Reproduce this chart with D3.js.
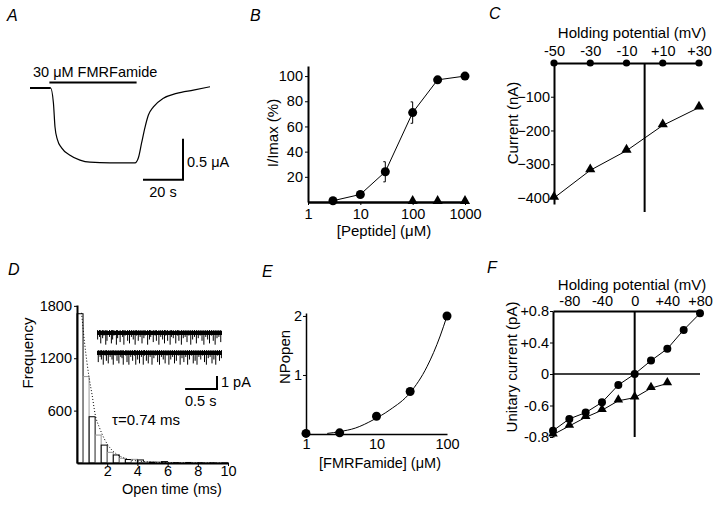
<!DOCTYPE html>
<html>
<head>
<meta charset="utf-8">
<script src="https://cdn.jsdelivr.net/npm/d3@7/dist/d3.min.js"></script>
<style>
  body { margin: 0; background: #fff; }
  svg { font-family: "Liberation Sans", Arial, Helvetica, sans-serif; }
</style>
</head>
<body>
<svg id="fig" width="720" height="505"></svg>
<script>
// ---- Panel A: whole-cell current trace (time s, current uA)
const traceA = [[0, 0], [10.3, 0], [11.7, -0.18], [12.5, -0.475], [13.7, -0.63], [15.8, -0.73],
  [20, -0.82], [25, -0.88], [30, -0.905], [40, -0.912], [52.5, -0.912], [54.2, -0.85],
  [55.8, -0.67], [57.5, -0.48], [59.2, -0.33], [61.7, -0.23], [66.7, -0.125], [73.3, -0.065],
  [81.7, -0.025], [90, 0.015]];
const drugOn = 9.7, drugOff = 53.3;

// ---- Panel B: dose response
const doseB = [3, 10, 30, 100, 300, 1000];
const respB = [1, 6, 24, 71, 97, 100];
const errB = [0, 0, 8, 8.5, 0, 0];
const doseBTri = [100, 300, 1000];
const respBTri = [0, 0, 0];
const ticksBx = [1, 10, 100, 1000];
const ticksBy = [20, 40, 60, 80, 100];

// ---- Panel C: I-V whole cell
const vC = [-50, -30, -10, 10, 30];
const iCcirc = [0, 0, 0, 0, 0];
const iCtri = [-400, -318, -260, -185, -132];
const labelsCx = ['-50', '-30', '-10', '+10', '+30'];
const ticksCy = [-100, -200, -300, -400];

// ---- Panel D: open-time histogram (0.4 ms bins)
const binWidthD = 0.4;
const countsD = [1710, 990, 530, 320, 205, 122, 92, 54, 40, 42, 35, 12, 10, 14, 16, 6, 4, 3, 6, 5, 3, 4, 2, 3, 2];
const fitD = [[0.3, 1720], [0.5, 1380], [0.8, 980], [1.0, 780], [1.2, 560], [1.5, 400], [1.8, 280],
  [2.2, 170], [2.6, 105], [3.0, 65], [3.6, 35], [4.5, 15], [6, 4], [9.5, 0]];
const ticksDx = [2, 4, 6, 8, 10];
const ticksDy = [600, 1200, 1800];
// single-channel openings in the inset (time s, amplitude pA)
const eventsD1 = [[0.01, 0.5], [0.04, 0.3], [0.06, 0.8], [0.09, 0.4], [0.11, 0.2], [0.14, 0.9], [0.16, 0.6],
  [0.2, 0.3], [0.23, 0.8], [0.25, 0.5], [0.27, 0.2], [0.31, 0.9], [0.33, 0.4], [0.37, 0.7], [0.41, 0.3],
  [0.43, 0.9], [0.45, 0.2], [0.49, 0.6], [0.52, 0.8], [0.55, 0.3], [0.58, 0.5], [0.61, 0.9], [0.63, 0.2],
  [0.66, 0.6], [0.69, 0.3], [0.72, 0.8], [0.75, 0.4], [0.77, 0.2], [0.81, 0.9], [0.84, 0.5], [0.86, 0.3],
  [0.9, 0.7], [0.93, 0.2], [0.95, 0.6], [0.99, 0.9], [1.02, 0.3], [1.05, 0.5], [1.08, 0.8], [1.1, 0.2],
  [1.13, 0.6], [1.17, 0.9], [1.19, 0.3], [1.22, 0.4], [1.26, 0.8], [1.29, 0.2], [1.31, 0.6], [1.35, 0.9],
  [1.38, 0.4], [1.41, 0.3], [1.44, 0.7], [1.47, 0.2], [1.5, 0.9], [1.53, 0.5], [1.56, 0.3], [1.59, 0.8],
  [1.62, 0.4], [1.65, 0.2], [1.68, 0.6], [1.71, 0.9], [1.74, 0.3], [1.77, 0.5], [1.8, 0.8], [1.83, 0.2],
  [1.86, 0.6], [1.89, 0.9], [1.92, 0.4], [1.95, 0.3], [1.98, 0.7]];
const eventsD2 = [[0.02, 0.7], [0.05, 0.3], [0.07, 0.5], [0.1, 0.9], [0.13, 0.2], [0.15, 0.6], [0.18, 0.8],
  [0.21, 0.3], [0.24, 0.5], [0.26, 0.9], [0.29, 0.2], [0.32, 0.6], [0.35, 0.8], [0.38, 0.3], [0.4, 0.4],
  [0.42, 0.9], [0.46, 0.2], [0.48, 0.7], [0.51, 0.9], [0.54, 0.3], [0.57, 0.6], [0.6, 0.2], [0.62, 0.9],
  [0.65, 0.5], [0.68, 0.8], [0.71, 0.3], [0.74, 0.9], [0.76, 0.2], [0.79, 0.6], [0.82, 0.8], [0.85, 0.3],
  [0.88, 0.9], [0.91, 0.4], [0.94, 0.2], [0.97, 0.7], [1.0, 0.9], [1.03, 0.3], [1.06, 0.5], [1.09, 0.8],
  [1.12, 0.2], [1.15, 0.9], [1.18, 0.5], [1.21, 0.3], [1.24, 0.8], [1.27, 0.6], [1.3, 0.2], [1.33, 0.9],
  [1.36, 0.4], [1.39, 0.7], [1.42, 0.3], [1.45, 0.9], [1.48, 0.5], [1.51, 0.2], [1.54, 0.8], [1.57, 0.6],
  [1.6, 0.9], [1.63, 0.3], [1.66, 0.5], [1.69, 0.2], [1.72, 0.7], [1.75, 0.9], [1.78, 0.4], [1.81, 0.3],
  [1.84, 0.8], [1.87, 0.5], [1.9, 0.9], [1.93, 0.2], [1.96, 0.6], [1.99, 0.4]];

// ---- Panel E: NPopen vs concentration
const doseE = [1, 3, 10, 30, 100];
const npE = [0.01, 0.02, 0.3, 0.72, 2.0];
const fitE = [[2, 0.01], [3, 0.04], [5, 0.1], [9, 0.24], [15.5, 0.41], [30, 0.7], [52, 1.14], [80, 1.66], [100, 2.0]];
const ticksEx = [1, 10, 100];
const ticksEy = [1, 2];

// ---- Panel F: unitary I-V
const vFcirc = [-100, -80, -60, -40, -20, 0, 20, 40, 60, 80];
const iFcirc = [-0.72, -0.57, -0.49, -0.36, -0.14, 0, 0.17, 0.32, 0.56, 0.77];
const vFtri = [-100, -80, -60, -40, -20, 0, 20, 40];
const iFtri = [-0.77, -0.66, -0.55, -0.46, -0.34, -0.3, -0.18, -0.12];
const ticksFx = [-80, -40, 0, 40, 80];
const labelsFx = ['-80', '-40', '0', '+40', '+80'];
const ticksFy = [0.8, 0.4, 0, -0.4, -0.8];
const labelsFy = ['+0.8', '+0.4', '0', '-0.6', '-0.8'];

const svg = d3.select('#fig');
const TICK_FS = 14.5, TITLE_FS = 15;

function styleAxis(g, w) {
  g.attr('font-size', TICK_FS).attr('font-family', null);
  g.select('.domain').attr('stroke', '#000').attr('stroke-width', w);
  g.selectAll('.tick line').attr('stroke', '#000');
  g.selectAll('.tick text').attr('fill', '#000');
  return g;
}

function label(x, y, txt, opts = {}) {
  const t = svg.append('text')
    .attr('x', x).attr('y', y)
    .attr('font-size', opts.size || TITLE_FS)
    .attr('text-anchor', opts.anchor || 'middle')
    .text(txt);
  if (opts.rotate) t.attr('transform', `rotate(-90,${x},${y})`);
  if (opts.italic) t.attr('font-style', 'italic');
  return t;
}

function dots(g, xs, ys, sx, sy, r) {
  g.selectAll(null).data(xs).enter().append('circle')
    .attr('cx', (d) => sx(d)).attr('cy', (d, i) => sy(ys[i])).attr('r', r).attr('fill', '#000');
}

function tris(g, xs, ys, sx, sy, size) {
  g.selectAll(null).data(xs).enter().append('path')
    .attr('d', d3.symbol(d3.symbolTriangle, size))
    .attr('transform', (d, i) => `translate(${sx(d)},${sy(ys[i]) - 1})`)
    .attr('fill', '#000');
}

function joinLine(g, xs, ys, sx, sy, w = 1) {
  g.append('path')
    .datum(xs.map((d, i) => [d, ys[i]]))
    .attr('fill', 'none').attr('stroke', '#000').attr('stroke-width', w)
    .attr('d', d3.line().x((d) => sx(d[0])).y((d) => sy(d[1])));
}

// panel letters
[['A', 7, 21], ['B', 250, 21], ['C', 489, 19], ['D', 8, 275], ['E', 262, 277], ['F', 487, 273]]
  .forEach(([t, x, y]) => label(x, y, t, { size: 16, anchor: 'start', italic: true }));

// ================= A
{
  const x = d3.scaleLinear().domain([0, 90]).range([30, 210]);
  const y = d3.scaleLinear().domain([0, -1]).range([88, 170]);
  const g = svg.append('g');
  g.append('path').datum(traceA)
    .attr('fill', 'none').attr('stroke', '#000').attr('stroke-width', 1.2)
    .attr('d', d3.line().x((d) => x(d[0])).y((d) => y(d[1])).curve(d3.curveMonotoneX));
  g.append('line').attr('x1', x(0)).attr('x2', x(10.3)).attr('y1', y(0)).attr('y2', y(0))
    .attr('stroke', '#000').attr('stroke-width', 2);
  g.append('line').attr('x1', x(drugOn)).attr('x2', x(drugOff)).attr('y1', 82.5).attr('y2', 82.5)
    .attr('stroke', '#000').attr('stroke-width', 2);
  label(33, 77, '30 μM FMRFamide', { anchor: 'start', size: 14.5 });
  // scale bars 20 s, 0.5 uA
  const t0 = 76.5, i0 = -1.12;
  g.append('path')
    .attr('d', `M${x(t0 - 20)},${y(i0)}H${x(t0)}V${y(i0 + 0.5)}`)
    .attr('fill', 'none').attr('stroke', '#000').attr('stroke-width', 2);
  label(x(t0) + 4, 167, '0.5 μA', { anchor: 'start', size: 14.5 });
  label(x(t0) - 20, 197, '20 s', { size: 14.5 });
}

// ================= B
{
  const x = d3.scaleLog().domain([1, 1000]).range([308, 465]);
  const y = d3.scaleLinear().domain([0, 108]).range([202, 66]);
  const g = svg.append('g');
  styleAxis(g.append('g').attr('transform', 'translate(0,202)')
    .call(d3.axisBottom(x).tickValues(ticksBx).tickFormat(d3.format('d')).tickSize(3).tickSizeOuter(0).tickPadding(4)), 2.5);
  styleAxis(g.append('g').attr('transform', 'translate(308,0)')
    .call(d3.axisLeft(y).tickValues(ticksBy).tickSize(3).tickSizeOuter(0).tickPadding(2)), 2);
  joinLine(g, doseB, respB, x, y);
  g.selectAll(null).data(doseB.filter((d, i) => errB[i] > 0)).enter().append('path')
    .attr('d', (d) => {
      const i = doseB.indexOf(d), cx = x(d), lo = y(respB[i] - errB[i]), hi = y(respB[i] + errB[i]);
      return `M${cx - 2},${hi}H${cx}V${lo}H${cx - 2}`;
    })
    .attr('fill', 'none').attr('stroke', '#000').attr('stroke-width', 1);
  dots(g, doseB, respB, x, y, 4.5);
  tris(g, doseBTri, respBTri, x, y, 45);
  label(278, 133, 'I/Imax (%)', { rotate: true });
  label(384, 236, '[Peptide] (μM)');
}

// ================= C
{
  const x = d3.scaleLinear().domain([-50, 30]).range([554, 699]);
  const y = d3.scaleLinear().domain([0, -418]).range([63, 204]);
  const g = svg.append('g');
  styleAxis(g.append('g').attr('transform', 'translate(0,63)')
    .call(d3.axisTop(x).tickValues(vC).tickFormat((d, i) => labelsCx[i]).tickSize(0).tickSizeOuter(0).tickPadding(7)), 2);
  styleAxis(g.append('g').attr('transform', 'translate(554,0)')
    .call(d3.axisLeft(y).tickValues(ticksCy).tickSize(3).tickSizeOuter(0).tickPadding(1)), 2);
  g.append('line').attr('x1', x(0)).attr('x2', x(0)).attr('y1', 63).attr('y2', 212)
    .attr('stroke', '#000').attr('stroke-width', 2);
  joinLine(g, vC, iCtri, x, y);
  dots(g, vC, iCcirc, x, y, 3.6);
  tris(g, vC, iCtri, x, y, 45);
  label(632, 38, 'Holding potential (mV)');
  label(518, 123, 'Current (nA)', { rotate: true });
}

// ================= D
{
  const x = d3.scaleLinear().domain([0, 10]).range([77, 228]);
  const y = d3.scaleLinear().domain([0, 1810]).range([463, 305]);
  const g = svg.append('g');
  g.selectAll(null).data(countsD).enter().append('rect')
    .attr('x', (d, i) => x(i * binWidthD))
    .attr('width', x(binWidthD) - x(0))
    .attr('y', (d) => y(d)).attr('height', (d) => y(0) - y(d))
    .attr('fill', 'none')
    .attr('stroke', (d, i) => (i % 2 ? '#999' : '#000')).attr('stroke-width', 1);
  g.append('path').datum(fitD)
    .attr('fill', 'none').attr('stroke', '#000').attr('stroke-width', 1).attr('stroke-dasharray', '1,2')
    .attr('d', d3.line().x((d) => x(d[0])).y((d) => y(d[1])).curve(d3.curveMonotoneX));
  styleAxis(g.append('g').attr('transform', 'translate(0,463)')
    .call(d3.axisBottom(x).tickValues(ticksDx).tickSize(3).tickSizeOuter(0).tickPadding(0)), 2);
  styleAxis(g.append('g').attr('transform', 'translate(77,0)')
    .call(d3.axisLeft(y).tickValues(ticksDy).tickFormat(d3.format('d')).tickSize(3).tickSizeOuter(0).tickPadding(2)), 2);
  label(33, 353, 'Frequency', { rotate: true });
  label(172, 494, 'Open time (ms)', { size: 14.5 });
  label(112, 425, 'τ=0.74 ms', { anchor: 'start' });

  // inset: two single-channel traces
  const tx = d3.scaleLinear().domain([0, 2]).range([97, 222]);
  const pA = 13; // px per pA
  [[eventsD1, 333], [eventsD2, 353]].forEach(([ev, base]) => {
    g.append('line').attr('x1', tx(0)).attr('x2', tx(2)).attr('y1', base).attr('y2', base)
      .attr('stroke', '#000').attr('stroke-width', 4);
    g.selectAll(null).data(ev).enter().append('line')
      .attr('x1', (d) => tx(d[0])).attr('x2', (d) => tx(d[0]))
      .attr('y1', base - 3).attr('y2', (d) => base + d[1] * pA)
      .attr('stroke', '#000').attr('stroke-width', 1);
  });
  g.append('path').attr('d', `M${tx(1.41)},389H${tx(1.92)}V${389 - pA}`)
    .attr('fill', 'none').attr('stroke', '#000').attr('stroke-width', 2);
  label(tx(1.92) + 4, 387, '1 pA', { anchor: 'start', size: TICK_FS });
  label(tx(1.66), 406, '0.5 s', { size: TICK_FS });
}

// ================= E
{
  const x = d3.scaleLog().domain([1, 100]).range([306, 447]);
  const y = d3.scaleLinear().domain([0, 2.05]).range([434, 313]);
  const g = svg.append('g');
  styleAxis(g.append('g').attr('transform', 'translate(0,434)')
    .call(d3.axisBottom(x).tickValues(ticksEx).tickFormat(d3.format('d')).tickSize(0).tickSizeOuter(0).tickPadding(5)), 1.5);
  styleAxis(g.append('g').attr('transform', 'translate(306,0)')
    .call(d3.axisLeft(y).tickValues(ticksEy).tickFormat(d3.format('d')).tickSize(3).tickSizeOuter(0).tickPadding(1)), 1.5);
  g.append('path').datum(fitE)
    .attr('fill', 'none').attr('stroke', '#000').attr('stroke-width', 1)
    .attr('d', d3.line().x((d) => x(d[0])).y((d) => y(d[1])).curve(d3.curveMonotoneX));
  dots(g, doseE, npE, x, y, 4.5);
  label(290, 357, 'NPopen', { rotate: true });
  label(380, 468, '[FMRFamide] (μM)', { size: 14.5 });
}

// ================= F
{
  const x = d3.scaleLinear().domain([-100, 80]).range([553, 700]);
  const y = d3.scaleLinear().domain([-0.8, 0.8]).range([437, 311]);
  const g = svg.append('g');
  styleAxis(g.append('g').attr('transform', 'translate(0,311)')
    .call(d3.axisTop(x).tickValues(ticksFx).tickFormat((d, i) => labelsFx[i]).tickSize(0).tickSizeOuter(0).tickPadding(5)), 2);
  styleAxis(g.append('g').attr('transform', 'translate(553,0)')
    .call(d3.axisLeft(y).tickValues(ticksFy).tickFormat((d, i) => labelsFy[i]).tickSize(3).tickSizeOuter(0).tickPadding(1)), 2);
  g.append('line').attr('x1', 553).attr('x2', 700).attr('y1', y(0)).attr('y2', y(0))
    .attr('stroke', '#000').attr('stroke-width', 1.5);
  g.append('line').attr('x1', x(0)).attr('x2', x(0)).attr('y1', 311).attr('y2', 437)
    .attr('stroke', '#000').attr('stroke-width', 2);
  joinLine(g, vFcirc, iFcirc, x, y);
  joinLine(g, vFtri, iFtri, x, y);
  dots(g, vFcirc, iFcirc, x, y, 4);
  tris(g, vFtri, iFtri, x, y, 40);
  label(632, 290, 'Holding potential (mV)');
  label(517, 367, 'Unitary current (pA)', { rotate: true });
}
</script>
</body>
</html>
